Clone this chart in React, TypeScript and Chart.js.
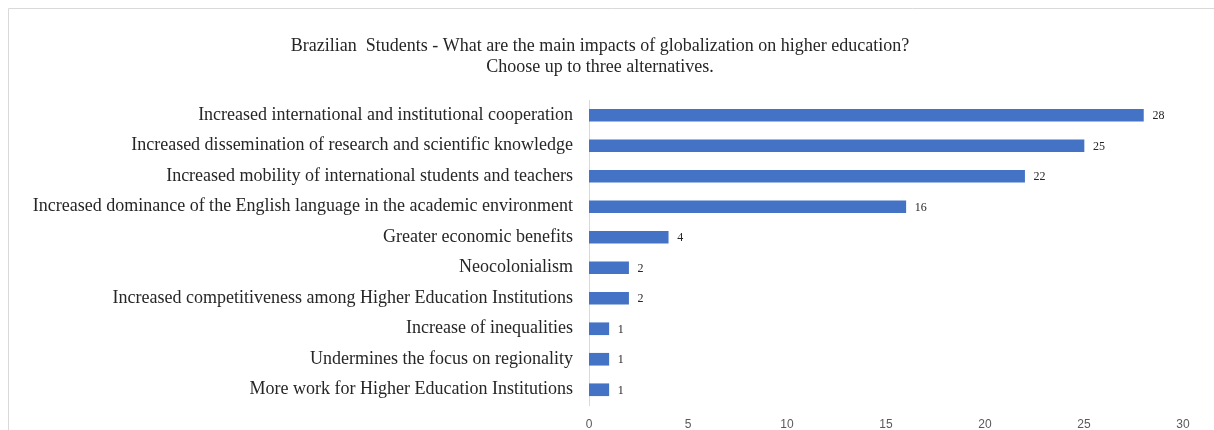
import React, { useEffect, useRef } from "react";
import { Chart, registerables } from "chart.js";

Chart.register(...registerables);

const titleLines = [
  "Brazilian  Students - What are the main impacts of globalization on higher education?",
  "Choose up to three alternatives.",
];

const categories = [
  "Increased international and institutional cooperation",
  "Increased dissemination of research and scientific knowledge",
  "Increased mobility of international students and teachers",
  "Increased dominance of the English language in the academic environment",
  "Greater economic benefits",
  "Neocolonialism",
  "Increased competitiveness among Higher Education Institutions",
  "Increase of inequalities",
  "Undermines the focus on regionality",
  "More work for Higher Education Institutions",
];

const responses = [28, 25, 22, 16, 4, 2, 2, 1, 1, 1];

const xTicks = [0, 5, 10, 15, 20, 25, 30];

const SERIF = '"Liberation Serif", "Times New Roman", serif';
const SANS = '"Liberation Sans", Arial, sans-serif';

// Light frame around the chart box plus the two-line heading
const framePlugin = {
  id: "frameAndTitle",
  beforeDraw(chart: any) {
    const { ctx, width, height } = chart;
    ctx.save();
    ctx.fillStyle = "#ffffff";
    ctx.fillRect(0, 0, width, height);
    ctx.strokeStyle = "#d9d9d9";
    ctx.lineWidth = 1;
    ctx.beginPath();
    ctx.moveTo(8.5, height);
    ctx.lineTo(8.5, 8.5);
    ctx.lineTo(width, 8.5);
    ctx.stroke();
    ctx.fillStyle = "#262626";
    ctx.font = `18px ${SERIF}`;
    ctx.textAlign = "center";
    ctx.textBaseline = "middle";
    ctx.fillText(titleLines[0], 600, 46);
    ctx.fillText(titleLines[1], 600, 67);
    ctx.restore();
  },
};

// Value labels just past the end of each bar
const valueLabelPlugin = {
  id: "valueLabels",
  afterDatasetsDraw(chart: any) {
    const { ctx } = chart;
    const meta = chart.getDatasetMeta(0);
    ctx.save();
    ctx.fillStyle = "#262626";
    ctx.font = `12px ${SERIF}`;
    ctx.textAlign = "left";
    ctx.textBaseline = "middle";
    meta.data.forEach((bar: any, i: number) => {
      ctx.fillText(String(responses[i]), bar.x + 9, bar.y + 1);
    });
    ctx.restore();
  },
};

export default function App() {
  const canvasRef = useRef<HTMLCanvasElement | null>(null);

  useEffect(() => {
    if (!canvasRef.current) return;
    const chart = new Chart(canvasRef.current, {
      type: "bar",
      data: {
        labels: categories,
        datasets: [
          {
            data: responses,
            backgroundColor: "#4472C4",
            borderWidth: 0,
            barThickness: 12,
          },
        ],
      },
      options: {
        indexAxis: "y",
        animation: false,
        responsive: false,
        maintainAspectRatio: false,
        layout: { padding: { top: 100, right: 31, bottom: 0, left: 0 } },
        plugins: {
          legend: { display: false },
          title: { display: false },
          tooltip: { enabled: false },
        },
        scales: {
          x: {
            min: 0,
            max: 30,
            afterBuildTicks(scale: any) {
              scale.ticks = xTicks.map((v) => ({ value: v }));
            },
            afterFit(scale: any) {
              scale.height = 25;
            },
            grid: { display: false, drawTicks: false },
            border: { display: false },
            ticks: {
              color: "#595959",
              font: { family: SANS, size: 12 },
              padding: 12,
            },
          },
          y: {
            afterFit(scale: any) {
              scale.width = 589;
              scale.paddingTop = 0;
              scale.paddingBottom = 0;
            },
            grid: { display: false, drawTicks: false },
            border: { display: true, color: "#d9d9d9", width: 1 },
            ticks: {
              color: "#262626",
              font: { family: SERIF, size: 18 },
              padding: 16,
              autoSkip: false,
            },
          },
        },
      },
      plugins: [framePlugin, valueLabelPlugin],
    });
    return () => chart.destroy();
  }, []);

  return (
    <div
      style={{
        position: "fixed",
        left: 0,
        top: 0,
        width: 1214,
        height: 430,
        background: "#ffffff",
      }}
    >
      <canvas ref={canvasRef} width={1214} height={430} style={{ display: "block" }} />
    </div>
  );
}
